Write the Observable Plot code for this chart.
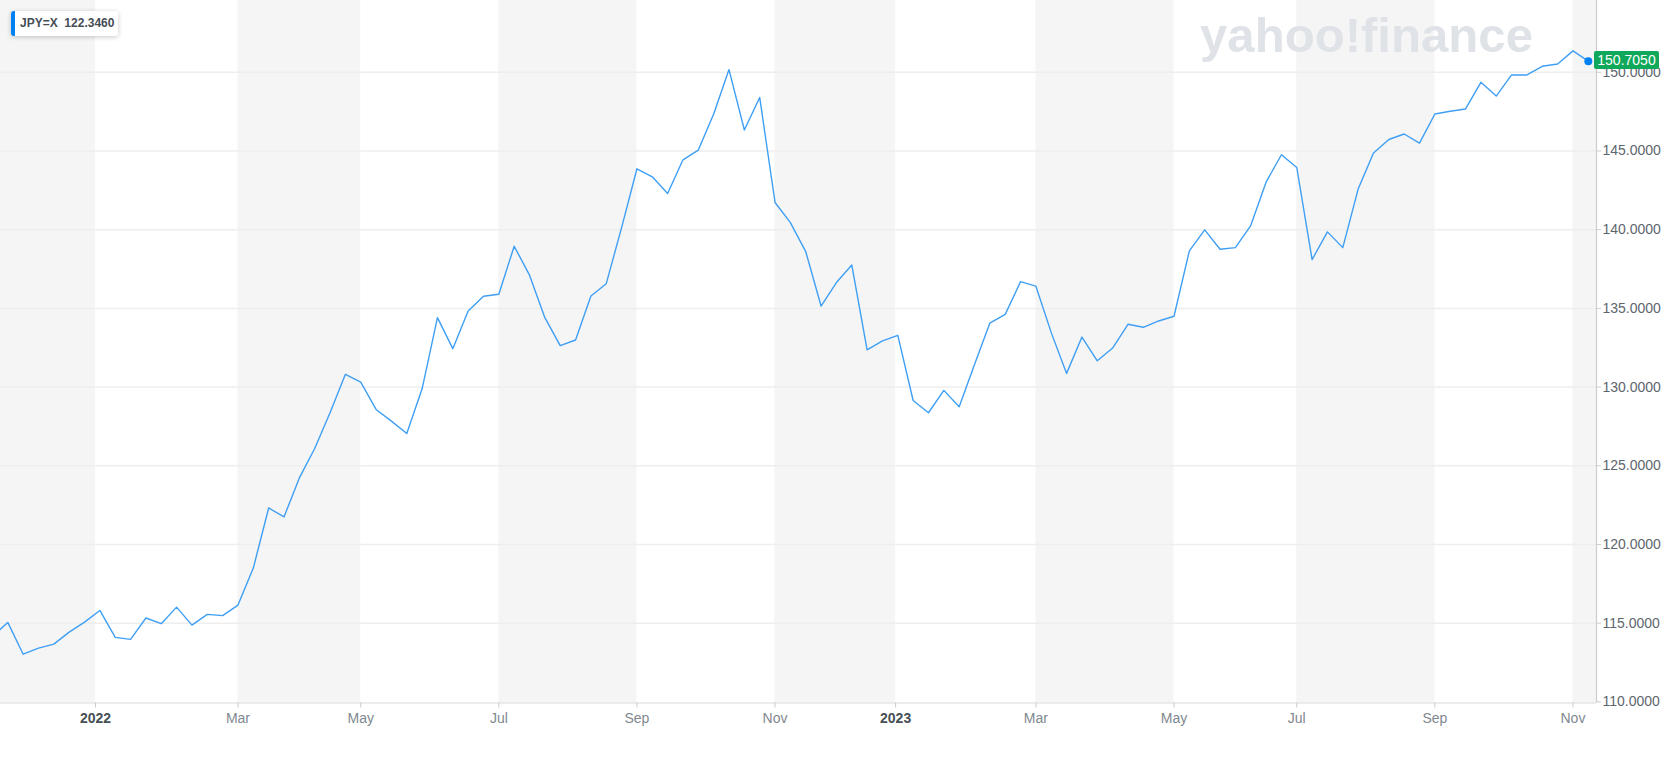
<!DOCTYPE html>
<html>
<head>
<meta charset="utf-8">
<script src="https://cdn.jsdelivr.net/npm/d3@7"></script>
<script src="https://cdn.jsdelivr.net/npm/@observablehq/plot@0.6"></script>
<style>
  body { margin: 0; background: #ffffff; font-family: "Liberation Sans", Arial, sans-serif; }
  #wrap { position: relative; width: 1667px; height: 762px; overflow: hidden; background: #fff; }
  #wrap svg { position: absolute; left: 0; top: 0; }
  .cmp { position: absolute; left: 11px; top: 11px; height: 25px; box-sizing: border-box;
         background: #fff; border-left: 4px solid #0081f2; border-radius: 3px 2px 2px 3px;
         box-shadow: 0 1px 5px rgba(0,0,0,0.22); padding: 0 4px 0 5px;
         font-size: 12px; font-weight: bold; color: #464e56; line-height: 25px; white-space: pre; }
  .last { position: absolute; height: 18px; box-sizing: border-box; padding: 0 3px;
          background: #10a85a; color: #fff; font-size: 14px; line-height: 18px; border-radius: 2px; }
</style>
</head>
<body>
<div id="wrap"></div>
<script>
// Weekly JPY=X closes (Monday-dated weeks)
const dates = [
  "2021-11-15","2021-11-22","2021-11-29","2021-12-06","2021-12-13","2021-12-20","2021-12-27",
  "2022-01-03","2022-01-10","2022-01-17","2022-01-24","2022-01-31","2022-02-07","2022-02-14","2022-02-21","2022-02-28",
  "2022-03-07","2022-03-14","2022-03-21","2022-03-28","2022-04-04","2022-04-11","2022-04-18","2022-04-25",
  "2022-05-02","2022-05-09","2022-05-16","2022-05-23","2022-05-30","2022-06-06","2022-06-13","2022-06-20","2022-06-27",
  "2022-07-04","2022-07-11","2022-07-18","2022-07-25","2022-08-01","2022-08-08","2022-08-15","2022-08-22","2022-08-29",
  "2022-09-05","2022-09-12","2022-09-19","2022-09-26","2022-10-03","2022-10-10","2022-10-17","2022-10-24","2022-10-31",
  "2022-11-07","2022-11-14","2022-11-21","2022-11-28","2022-12-05","2022-12-12","2022-12-19","2022-12-26",
  "2023-01-02","2023-01-09","2023-01-16","2023-01-23","2023-01-30","2023-02-06","2023-02-13","2023-02-20","2023-02-27",
  "2023-03-06","2023-03-13","2023-03-20","2023-03-27","2023-04-03","2023-04-10","2023-04-17","2023-04-24",
  "2023-05-01","2023-05-08","2023-05-15","2023-05-22","2023-05-29","2023-06-05","2023-06-12","2023-06-19","2023-06-26",
  "2023-07-03","2023-07-10","2023-07-17","2023-07-24","2023-07-31","2023-08-07","2023-08-14","2023-08-21","2023-08-28",
  "2023-09-04","2023-09-11","2023-09-18","2023-09-25","2023-10-02","2023-10-09","2023-10-16","2023-10-23","2023-10-30",
  "2023-11-06","2023-11-13"
];
const closes = [
  114.17, 115.05, 113.03, 113.42, 113.67, 114.43, 115.07,
  115.81, 114.10, 113.97, 115.33, 114.97, 116.02, 114.88, 115.56, 115.48,
  116.15, 118.50, 122.32, 121.75, 124.23, 126.10, 128.37, 130.81,
  130.32, 128.58, 127.84, 127.05, 129.89, 134.41, 132.44, 134.83, 135.77,
  135.90, 138.95, 137.11, 134.41, 132.63, 132.99, 135.79, 136.57, 140.13,
  143.87, 143.36, 142.30, 144.44, 145.06, 147.35, 150.17, 146.33, 148.40,
  141.73, 140.45, 138.61, 135.15, 136.64, 137.76, 132.37, 132.93,
  133.29, 129.15, 128.37, 129.79, 128.75, 131.44, 134.07, 134.62, 136.70,
  136.41, 133.46, 130.87, 133.18, 131.67, 132.48, 133.99, 133.80,
  134.20, 134.50, 138.65, 139.99, 138.76, 138.86, 140.26, 143.02, 144.76,
  143.95, 138.10, 139.86, 138.86, 142.58, 144.87, 145.73, 146.08, 145.50,
  147.35, 147.52, 147.67, 149.36, 148.49, 149.83, 149.83, 150.38, 150.53,
  151.36, 150.705
];
const tickDates  = ["2022-01-01","2022-03-07","2022-05-02","2022-07-04","2022-09-05","2022-11-07",
                    "2023-01-01","2023-03-06","2023-05-08","2023-07-03","2023-09-04","2023-11-06"];
const tickLabels = ["2022","Mar","May","Jul","Sep","Nov","2023","Mar","May","Jul","Sep","Nov"];
const yTicks = [110, 115, 120, 125, 130, 135, 140, 145, 150];
const xDomain = ["2021-11-18T16:00:00Z", "2023-11-16T17:40:00Z"];
const yDomain = [109.93, 154.56];
const compareLabel = "JPY=X  122.3460";
const lastLabel = "150.7050";
const watermark = "yahoo!finance";

const parse = s => new Date(s.length > 10 ? s : s + "T00:00:00Z");
const data = dates.map((d, i) => ({date: parse(d), value: closes[i]}));
const xDom = xDomain.map(parse);
const ticks = tickDates.map(parse);
const labelOf = new Map(ticks.map((d, i) => [+d, tickLabels[i]]));
const isYear = tickLabels.map(l => /^\d{4}$/.test(l));
const bounds = [xDom[0], ...ticks, xDom[1]];
const bands = [];
for (let i = 0; i + 1 < bounds.length; i += 2) bands.push({x1: bounds[i], x2: bounds[i + 1]});

const font = "'Liberation Sans', Arial, sans-serif";
const chart = Plot.plot({
  width: 1667, height: 762,
  marginLeft: 0, marginRight: 71, marginTop: 0, marginBottom: 59.5,
  x: {type: "utc", domain: xDom, label: null},
  y: {domain: yDomain, label: null},
  style: {fontFamily: font, fontSize: "14px", background: "transparent", overflow: "visible"},
  marks: [
    Plot.rect(bands, {x1: "x1", x2: "x2", y1: () => yDomain[0], y2: () => yDomain[1], fill: "#f5f5f5"}),
    Plot.ruleY(yTicks.slice(1), {stroke: "#eeeeee", strokeWidth: 1.5}),
    Plot.ruleY([yDomain[0]], {stroke: "#dadada", strokeWidth: 1.2}),
    Plot.ruleX([xDom[1]], {stroke: "#cdcdcd", strokeWidth: 1.2}),
    Plot.axisX({ticks: ticks.filter((d, i) => !isYear[i]), tickFormat: d => labelOf.get(+d),
      tickSize: 5, tickPadding: 5, stroke: "#cccccc", fill: "#80888f", fontSize: 14, label: null}),
    Plot.axisX({ticks: ticks.filter((d, i) => isYear[i]), tickFormat: d => labelOf.get(+d),
      tickSize: 5, tickPadding: 5, stroke: "#cccccc", fill: "#464e56", fontSize: 14, fontWeight: "bold", label: null}),
    Plot.axisY({anchor: "right", ticks: yTicks, tickFormat: d => d.toFixed(4),
      tickSize: 4, tickPadding: 2, stroke: "#cccccc", fill: "#5e666d", fontSize: 14, label: null}),
    Plot.line(data, {x: "date", y: "value", stroke: "#3f9ff4", strokeWidth: 1.4, clip: true}),
    Plot.dot(data.slice(-1), {x: "date", y: "value", r: 4, fill: "#0081f2"})
  ]
});

const wrap = document.getElementById("wrap");
wrap.appendChild(chart);

// watermark, behind the line
const lineG = chart.querySelector('g[aria-label="line"]');
const wm = document.createElementNS("http://www.w3.org/2000/svg", "text");
wm.setAttribute("x", 1200);
wm.setAttribute("y", 52);
wm.setAttribute("text-anchor", "start");
wm.setAttribute("font-size", 48);
wm.setAttribute("font-weight", 900);
wm.setAttribute("font-family", font);
wm.setAttribute("fill", "#dfe2e7");
wm.setAttribute("textLength", 333);
wm.setAttribute("lengthAdjust", "spacingAndGlyphs");
wm.textContent = watermark;
chart.insertBefore(wm, lineG);

// compare tag
const cmp = document.createElement("div");
cmp.className = "cmp";
cmp.textContent = compareLabel;
wrap.appendChild(cmp);

// last value tag, placed from the scales
const last = data[data.length - 1];
const px = chart.scale("x").apply(last.date);
const py = chart.scale("y").apply(last.value);
const tag = document.createElement("div");
tag.className = "last";
tag.textContent = lastLabel;
tag.style.left = (px + 6.5) + "px";
tag.style.top = (py - 9.5) + "px";
wrap.appendChild(tag);
</script>
</body>
</html>
